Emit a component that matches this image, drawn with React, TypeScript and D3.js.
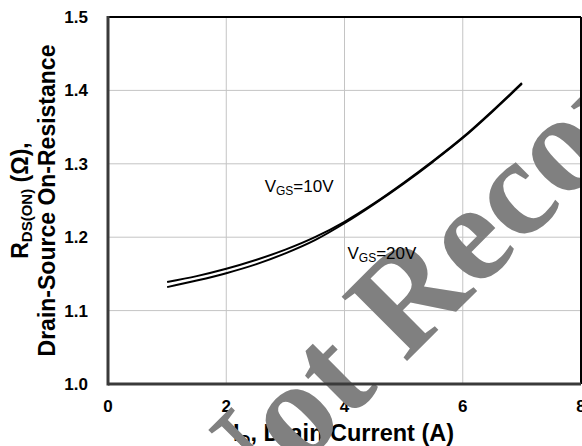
import React from "react";
import * as d3 from "d3";

// drain current (A) and on-resistance (ohm)
const currentA = [1, 1.5, 2, 2.5, 3, 3.5, 4, 4.5, 5, 5.5, 6, 6.5, 7];
const rdsVgs10 = [1.139, 1.147, 1.157, 1.169, 1.183, 1.2, 1.221, 1.246, 1.274, 1.304, 1.336, 1.372, 1.41];
const rdsVgs20 = [1.132, 1.141, 1.151, 1.163, 1.178, 1.196, 1.219, 1.245, 1.273, 1.303, 1.335, 1.371, 1.409];

const xTicks = [0, 2, 4, 6, 8];
const yTicks = [1.0, 1.1, 1.2, 1.3, 1.4, 1.5];

const width = 582;
const height = 446;
const margin = { top: 17, right: 1, bottom: 62, left: 108 };
const sans = "'Liberation Sans', Arial, sans-serif";

const App = () => {
  const x = d3.scaleLinear().domain([0, 8]).range([margin.left, width - margin.right]);
  const y = d3.scaleLinear().domain([1.0, 1.5]).range([height - margin.bottom, margin.top]);

  const line = d3
    .line<number>()
    .x((_, i) => x(currentA[i]))
    .y((d) => y(d))
    .curve(d3.curveMonotoneX);

  const x0 = x(0);
  const x1 = x(8);
  const yTop = y(1.5);
  const yBot = y(1.0);
  const midY = (yTop + yBot) / 2;

  return (
    <svg
      width={width}
      height={height}
      style={{ position: "absolute", left: 0, top: 0, background: "#fff" }}
      fontFamily={sans}
    >
      {/* grid */}
      {xTicks.slice(1, -1).map((t) => (
        <line key={"gx" + t} x1={x(t)} x2={x(t)} y1={yTop} y2={yBot} stroke="#c4c4c4" strokeWidth={1} />
      ))}
      {yTicks.slice(1, -1).map((t) => (
        <line key={"gy" + t} x1={x0} x2={x1} y1={y(t)} y2={y(t)} stroke="#c4c4c4" strokeWidth={1} />
      ))}

      {/* curves */}
      <path d={line(rdsVgs10) || ""} fill="none" stroke="#000" strokeWidth={2} />
      <path d={line(rdsVgs20) || ""} fill="none" stroke="#000" strokeWidth={2} />

      {/* tick labels */}
      {yTicks.map((t) => (
        <text
          key={"ty" + t}
          x={88}
          y={y(t)}
          dy="0.35em"
          textAnchor="end"
          fontSize={17}
          fontWeight="bold"
        >
          {t.toFixed(1)}
        </text>
      ))}
      {xTicks.map((t) => (
        <text key={"tx" + t} x={x(t)} y={412} textAnchor="middle" fontSize={17} fontWeight="bold">
          {t}
        </text>
      ))}

      {/* axis titles */}
      <text x={233} y={441} fontSize={23.5} fontWeight="bold">
        I<tspan fontSize={15} dy={4}>D</tspan>
        <tspan dy={-4}>, Drain Current (A)</tspan>
      </text>
      <g transform={`translate(28,${midY}) rotate(-90)`}>
        <text textAnchor="middle" fontSize={23} fontWeight="bold">
          R<tspan fontSize={15} dy={4}>DS(ON)</tspan>
          <tspan dy={-4}> (Ω),</tspan>
        </text>
      </g>
      <g transform={`translate(55,${midY}) rotate(-90)`}>
        <text textAnchor="middle" fontSize={23} fontWeight="bold">
          Drain-Source On-Resistance
        </text>
      </g>

      {/* watermark */}
      <text
        transform="translate(226,542) rotate(-45)"
        fontFamily="'Liberation Serif', 'Times New Roman', serif"
        fontWeight="bold"
        fontSize={140}
        fill="#808080"
      >
        Not Recommended
      </text>

      {/* curve labels */}
      <text x={x(2.65)} y={y(1.262)} fontSize={17} fill="#000">
        V<tspan fontSize={12} dy={3}>GS</tspan>
        <tspan dy={-3}>=10V</tspan>
      </text>
      <text x={x(4.05)} y={y(1.17)} fontSize={17} fill="#000">
        V<tspan fontSize={12} dy={3}>GS</tspan>
        <tspan dy={-3}>=20V</tspan>
      </text>

      {/* frame */}
      <line x1={x0} x2={x1} y1={yTop} y2={yTop} stroke="#000" strokeWidth={2} />
      <line x1={x1} x2={x1} y1={yTop} y2={yBot} stroke="#000" strokeWidth={2} />
      <line x1={x0} x2={x0} y1={yTop - 1} y2={yBot + 1.5} stroke="#3a3a3a" strokeWidth={3} />
      <line x1={x0} x2={x1} y1={yBot} y2={yBot} stroke="#3a3a3a" strokeWidth={3} />
    </svg>
  );
};

export default App;
